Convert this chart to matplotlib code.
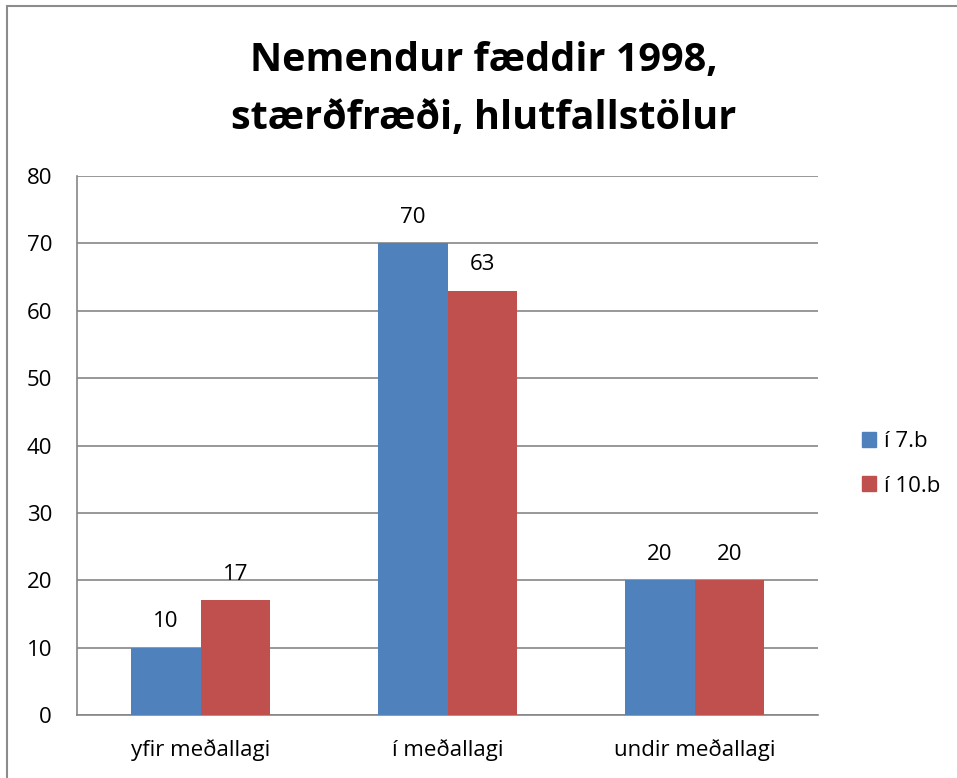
import numpy as np
import matplotlib
matplotlib.use("Agg")
import matplotlib.pyplot as plt
from matplotlib.patches import Patch, Rectangle

plt.rcParams['font.family'] = ['Open Sans', 'DejaVu Sans']

categories = ["yfir meðallagi", "í meðallagi", "undir meðallagi"]
series_names = ["í 7.b", "í 10.b"]
vals_7b = [10, 70, 20]
vals_10b = [17, 63, 20]
yticks = [0, 10, 20, 30, 40, 50, 60, 70, 80]

blue = "#4F81BD"
red = "#C0504D"
grid_col = "#868686"

fig = plt.figure(figsize=(9.57, 7.78), dpi=100)
ax = fig.add_axes([77/957, 1-715/778, (818-77)/957, (715-176)/778])

x = np.arange(len(categories))
w = 0.283
b1 = ax.bar(x - w/2, vals_7b, w, color=blue, zorder=3)
b2 = ax.bar(x + w/2, vals_10b, w, color=red, zorder=3)

for bars, vals in [(b1, vals_7b), (b2, vals_10b)]:
    for r, v in zip(bars, vals):
        ax.annotate(str(v), (r.get_x() + r.get_width()/2, v), xytext=(0, 11),
                    textcoords="offset points", ha="center", va="bottom", fontsize=16)

ax.set_xlim(-0.5, 2.5)
ax.set_ylim(0, 80)
ax.set_yticks(yticks)
ax.set_xticks(x)
ax.set_xticklabels(categories)
ax.yaxis.grid(True, color=grid_col, linewidth=1.2, zorder=0)
ax.tick_params(axis="both", length=0, labelsize=16)
ax.tick_params(axis="y", pad=18)
ax.tick_params(axis="x", pad=17)
for s in ["top", "right"]:
    ax.spines[s].set_visible(False)
for s in ["left", "bottom"]:
    ax.spines[s].set_color(grid_col)
    ax.spines[s].set_linewidth(1.2)

fig.text(484/957, 1-60/778, "Nemendur fæddir 1998,", ha="center", va="center",
         fontsize=28.5, fontweight="bold")
fig.text(484/957, 1-118/778, "stærðfræði, hlutfallstölur", ha="center", va="center",
         fontsize=28.5, fontweight="bold")

handles = [Patch(color=blue, label=series_names[0]), Patch(color=red, label=series_names[1])]
fig.legend(handles=handles, loc="center left", bbox_to_anchor=(842/957, 1-464/778),
           frameon=False, fontsize=16, handlelength=0.65, handleheight=0.65,
           handletextpad=0.35, labelspacing=1.05)

# outer chart border
fig.patches.append(Rectangle((7/957, -0.05), 1.1, 1 - 6/778 + 0.05, transform=fig.transFigure,
                             fill=False, edgecolor="#8c8c8c", linewidth=1.5))

fig.savefig("out.png", dpi=100)
